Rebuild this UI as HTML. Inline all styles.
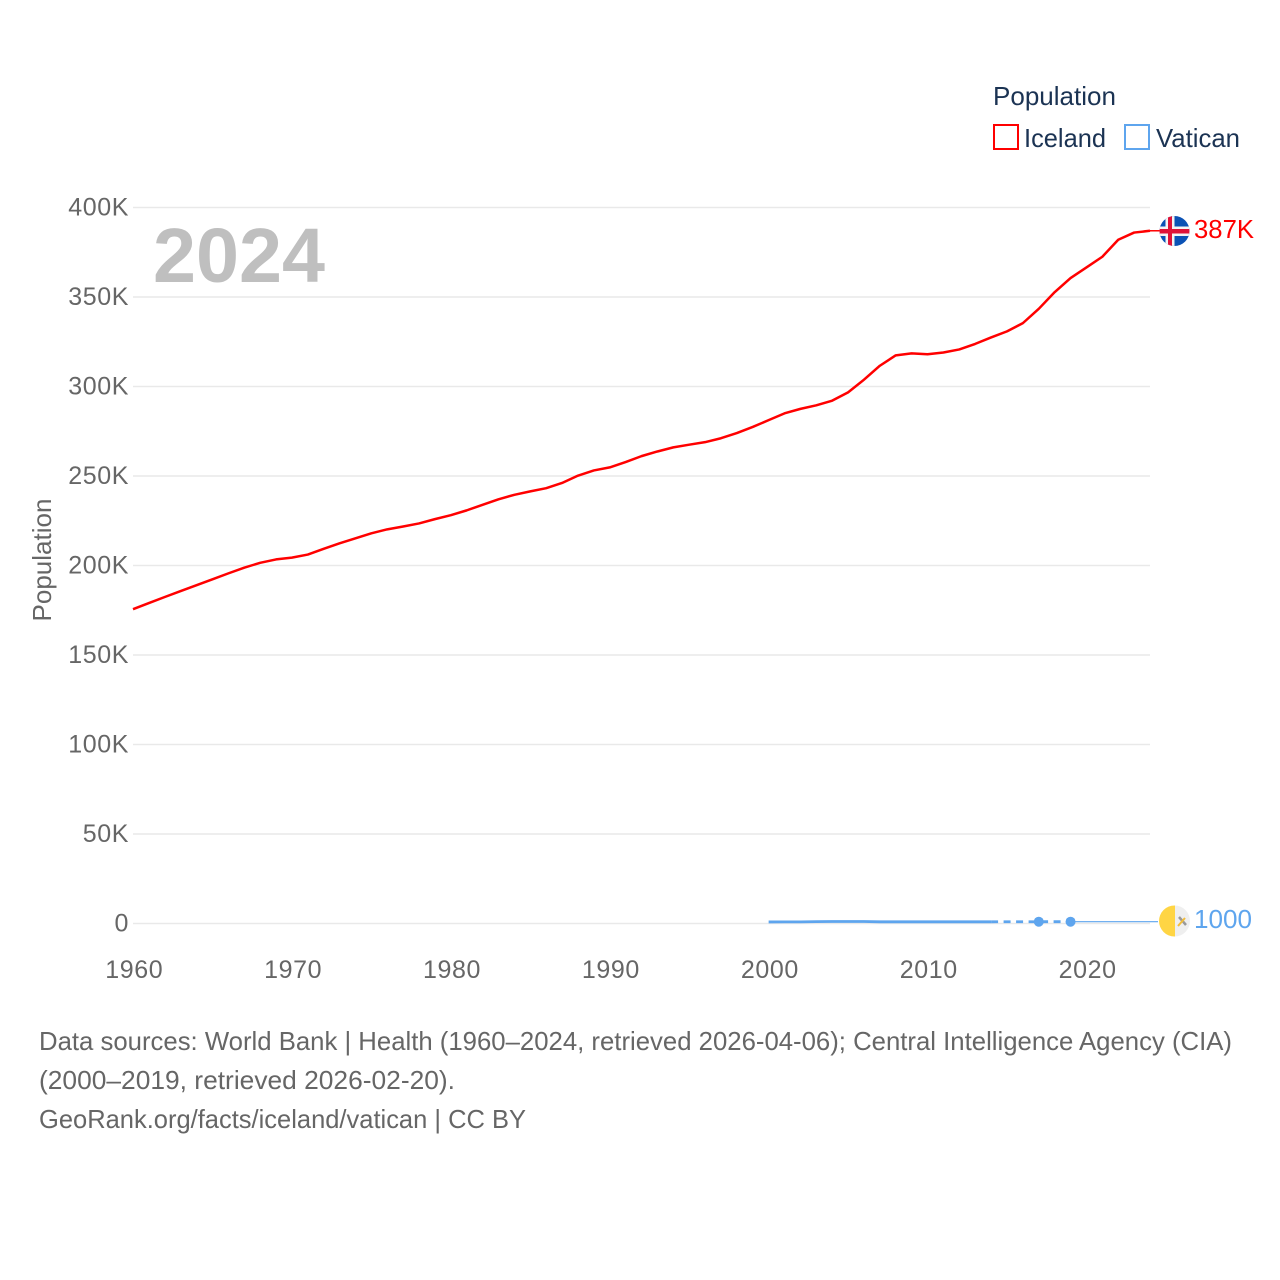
<!DOCTYPE html>
<html>
<head>
<meta charset="utf-8">
<title>Population: Iceland and Vatican</title>
<style>
html,body{margin:0;padding:0;background:#fff;width:1280px;height:1280px;overflow:hidden}
svg{display:block;font-family:"Liberation Sans",sans-serif}
.tick{font-size:25px;fill:#666;letter-spacing:.6px}
.note{font-size:26px;fill:#666}
.leg{font-size:26px;fill:#1b3353}
</style>
</head>
<body>
<svg id="chart" width="1280" height="1280" viewBox="0 0 1280 1280" xmlns="http://www.w3.org/2000/svg">
  <rect x="0" y="0" width="1280" height="1280" fill="#fff"/>
  <g id="grid"></g>
  <g id="yticks"></g>
  <g id="xticks"></g>
  <text transform="translate(51,560) rotate(-90)" text-anchor="middle" font-size="26" fill="#666" textLength="123" lengthAdjust="spacingAndGlyphs">Population</text>
  <text x="153" y="282" font-size="77" font-weight="700" fill="#bfbfbf" textLength="172" lengthAdjust="spacingAndGlyphs">2024</text>
  <g id="series"></g>

  <g>
    <defs><clipPath id="flagClipA"><circle cx="1174.5" cy="231" r="15"/></clipPath><clipPath id="flagClipB"><circle cx="1174.5" cy="921" r="15.5"/></clipPath></defs>
    <g clip-path="url(#flagClipA)">
      <rect x="1159" y="215" width="31" height="32" fill="#0b52b5"/>
      <rect x="1165.5" y="215" width="9" height="32" fill="#f4f4f4"/>
      <rect x="1159" y="226.5" width="31" height="9.5" fill="#f4f4f4"/>
      <rect x="1168" y="215" width="4" height="32" fill="#e01238"/>
      <rect x="1159" y="229" width="31" height="4.5" fill="#e01238"/>
    </g>
  </g>
  <g>
    <g clip-path="url(#flagClipB)">
      <rect x="1159" y="905" width="16" height="32" fill="#ffd544"/>
      <rect x="1175" y="905" width="16" height="32" fill="#efefef"/>
      <line x1="1179" y1="917" x2="1186" y2="925" stroke="#999" stroke-width="2.5"/>
      <line x1="1178" y1="926" x2="1185" y2="918" stroke="#f2bd3a" stroke-width="2"/>
    </g>
  </g>
  <text id="labelA" x="1194" y="238" font-size="26" fill="#ff0000" textLength="60" lengthAdjust="spacingAndGlyphs"></text>
  <text id="labelB" x="1194" y="928" font-size="26" fill="#5ea5ee" textLength="58" lengthAdjust="spacingAndGlyphs"></text>

  <g>
    <text class="leg" x="993" y="105" textLength="123" lengthAdjust="spacingAndGlyphs">Population</text>
    <g>
      <rect x="994" y="125" width="24" height="24" fill="#fff" stroke="#ff0000" stroke-width="2"/>
      <text class="leg" x="1024" y="147" textLength="82" lengthAdjust="spacingAndGlyphs">Iceland</text>
    </g>
    <g>
      <rect x="1125" y="125" width="24" height="24" fill="#fff" stroke="#5ea5ee" stroke-width="2"/>
      <text class="leg" x="1156" y="147" textLength="84" lengthAdjust="spacingAndGlyphs">Vatican</text>
    </g>
  </g>

  <g>
    <text class="note" x="39" y="1050" textLength="1193" lengthAdjust="spacingAndGlyphs">Data sources: World Bank | Health (1960–2024, retrieved 2026-04-06); Central Intelligence Agency (CIA)</text>
    <text class="note" x="39" y="1089" textLength="416" lengthAdjust="spacingAndGlyphs">(2000–2019, retrieved 2026-02-20).</text>
    <text class="note" x="39" y="1128" textLength="487" lengthAdjust="spacingAndGlyphs">GeoRank.org/facts/iceland/vatican | CC BY</text>
  </g>
</svg>
<script>
const yTickValues = [0, 50000, 100000, 150000, 200000, 250000, 300000, 350000, 400000];
const yTickLabels = ['0', '50K', '100K', '150K', '200K', '250K', '300K', '350K', '400K'];
const xTickYears = [1960, 1970, 1980, 1990, 2000, 2010, 2020];
const icelandStartYear = 1960;
const icelandValues = [175600, 179000, 182400, 185700, 189000, 192300, 195600, 198800, 201500, 203400, 204400, 206100, 209300, 212400, 215200, 218000, 220200, 221800, 223500, 225900, 228100, 230800, 233900, 237000, 239500, 241400, 243200, 246100, 250200, 253100, 254800, 257800, 261100, 263700, 266000, 267500, 268900, 271100, 274000, 277400, 281200, 285000, 287500, 289500, 292100, 296700, 303800, 311600, 317400, 318500, 318000, 319000, 320700, 323800, 327400, 330800, 335400, 343400, 352700, 360600, 366500, 372500, 382000, 386000, 387000];
const vaticanYears = [2000, 2001, 2002, 2003, 2004, 2005, 2006, 2007, 2008, 2009, 2010, 2011, 2012, 2013, 2014, 2017, 2019];
const vaticanValues = [880, 890, 900, 1050, 1100, 1100, 1100, 950, 950, 950, 950, 950, 950, 950, 950, 1000, 1000];
const vaticanSolidEndYear = 2014;
const vaticanPointYears = [2017, 2019];
const icelandLabel = '387K';
const vaticanLabel = '1000';

const NS = 'http://www.w3.org/2000/svg';
function xScale(year) { return 133 + (year - 1960) * (1150 - 133) / 64; }
function yScale(v) { return 923.5 - v * (923.5 - 207.5) / 400000; }
function make(tag, attrs, parent) {
  const el = document.createElementNS(NS, tag);
  Object.keys(attrs).forEach(function (k) { el.setAttribute(k, attrs[k]); });
  parent.appendChild(el);
  return el;
}
const grid = document.getElementById('grid');
const yticks = document.getElementById('yticks');
const xticks = document.getElementById('xticks');
const series = document.getElementById('series');

yTickValues.forEach(function (v, i) {
  const line = make('line', { x1: 133, x2: 1150, y1: yScale(v), y2: yScale(v), stroke: '#e9e9e9', 'stroke-width': 1.5 }, grid);
  
  
  const t = make('text', { x: 129, y: yScale(v) + 8, 'text-anchor': 'end', class: 'tick' }, yticks);
  t.textContent = yTickLabels[i];
  
  
});
xTickYears.forEach(function (yr) {
  const t = make('text', { x: xScale(yr) + 1.2, y: 978, 'text-anchor': 'middle', class: 'tick' }, xticks);
  t.textContent = String(yr);
  
  
});

function pathFrom(pts) {
  return pts.map(function (p, i) { return (i ? 'L' : 'M') + p[0].toFixed(2) + ' ' + p[1].toFixed(2); }).join(' ');
}
const icePts = icelandValues.map(function (v, i) { return [xScale(icelandStartYear + i), yScale(v)]; });
const iceLine = make('path', { d: pathFrom(icePts), fill: 'none', stroke: '#ff0000', 'stroke-width': 2.5, 'stroke-linejoin': 'round' }, series);


const iceLast = icePts[icePts.length - 1];
const iceLead = make('line', { x1: iceLast[0], y1: iceLast[1], x2: 1161, y2: iceLast[1], stroke: '#ff0000', 'stroke-width': 1.5 }, series);



const vatPts = vaticanYears.map(function (yr, i) { return [xScale(yr), yScale(vaticanValues[i]), yr]; });
const vatSolid = vatPts.filter(function (p) { return p[2] <= vaticanSolidEndYear; });
const vatDashed = vatPts.filter(function (p) { return p[2] >= vaticanSolidEndYear; });
const vatLine = make('path', { d: pathFrom(vatSolid), fill: 'none', stroke: '#5ea5ee', 'stroke-width': 2.8 }, series);


const vatDash = make('path', { d: pathFrom(vatDashed), fill: 'none', stroke: '#5ea5ee', 'stroke-width': 2.8, 'stroke-dasharray': '7 5.5' }, series);


vaticanPointYears.forEach(function (yr) {
  const idx = vaticanYears.indexOf(yr);
  const c = make('circle', { cx: xScale(yr), cy: yScale(vaticanValues[idx]), r: 5, fill: '#5ea5ee' }, series);
  
  
});
const vatLast = vatPts[vatPts.length - 1];
const vatLead = make('line', { x1: vatLast[0], y1: vatLast[1], x2: 1158, y2: vatLast[1], stroke: '#5ea5ee', 'stroke-width': 1.2 }, series);



document.getElementById('labelA').textContent = icelandLabel;
document.getElementById('labelB').textContent = vaticanLabel;
</script>
</body>
</html>
